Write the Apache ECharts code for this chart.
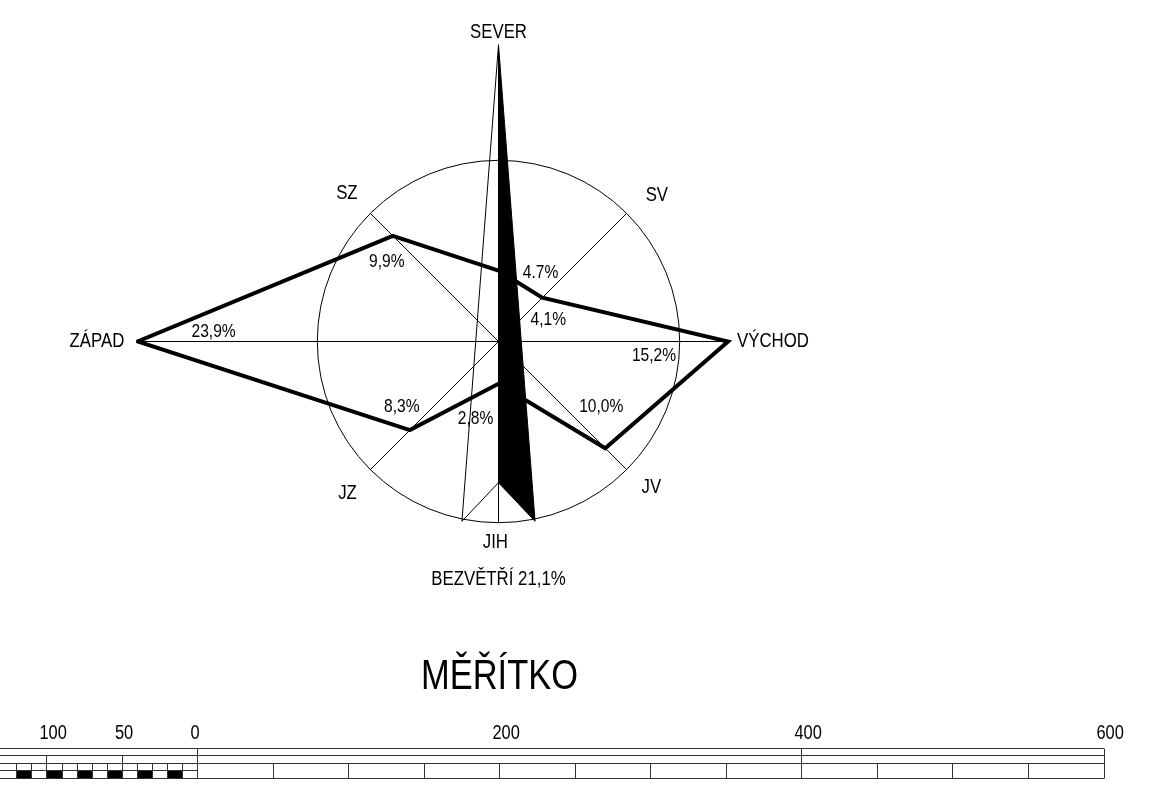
<!DOCTYPE html>
<html><head><meta charset="utf-8">
<script src="https://cdn.jsdelivr.net/npm/echarts@6/dist/echarts.min.js"></script>
<style>html,body{margin:0;padding:0;background:#fff}#c{width:1169px;height:793px}</style>
</head><body><div id="c"></div>
<script>
// ---------- data ----------
const directions = ['SEVER', 'SV', 'VÝCHOD', 'JV', 'JIH', 'JZ', 'ZÁPAD', 'SZ'];
const directionAngles = [0, 45, 90, 135, 180, 225, 270, 315];
const frequencies = [4.7, 4.1, 15.2, 10.0, 2.8, 8.3, 23.9, 9.9];
const decimalMarks = ['.', ',', ',', ',', ',', ',', ',', ','];
const calmName = 'BEZVĚTŘÍ';
const calmFrequency = 21.1;
const referenceRing = 12;
const scaleTitle = 'MĚŘÍTKO';
const scaleLabelValues = [-100, -50, 0, 200, 400, 600];
const scaleFullDividers = [0, 400, 600];
const scaleMidDividers = [-100, -50];
const scaleFineDividers = [-120, -110, -100, -90, -80, -70, -60, -50, -40, -30, -20, -10];
const scaleCoarseDividers = [50, 100, 150, 200, 250, 300, 350, 400, 450, 500, 550];
const scaleBlackCells = [-120, -100, -80, -60, -40, -20];
const scaleEnd = 600;

// ---------- layout / style ----------
const FONT = '"Liberation Sans", Arial, sans-serif';
const SX = 0.82;
const CENTER = [498.5, 341.5];
const PX_PER_PCT = 15.1;
const R_MAX = 24;
const dirLabelPolar = [[20.5, 0], [14.27, 47.3], [18.18, 90], [13.98, 133.6], [13.28, 180.9], [14.19, 224.8], [26.59, 270], [14.03, 314.3]];
const calmLabelPolar = [15.76, 180];
const valueLabelOffset = [[42, 2], [6, 22], [-74, 14], [-4, -42], [-23, 35], [-8, -23], [76, -10], [-6, 26]];
const arrow = { tip: 19.65, base: 12.15, half: 11.5, notch: 9.35 };
const SCALE_MIN = -131.1;

function txt(x, y, s, size, align) {
  return {
    type: 'text', x: x, y: y, scaleX: SX, scaleY: 1,
    style: { text: s, fill: '#000', font: size + 'px ' + FONT,
      align: align || 'center', textAlign: align || 'center',
      verticalAlign: 'middle', textVerticalAlign: 'middle' }
  };
}
function fmt(v, mark) { return v.toFixed(1).replace('.', mark) + '%'; }

const chart = echarts.init(document.getElementById('c'), null, { renderer: 'canvas' });

const option = {
  animation: false,
  backgroundColor: '#fff',
  polar: { center: CENTER, radius: R_MAX * PX_PER_PCT },
  angleAxis: { type: 'value', min: 0, max: 360, startAngle: 90, clockwise: true,
    axisLine: { show: false }, axisTick: { show: false }, axisLabel: { show: false }, splitLine: { show: false } },
  radiusAxis: { type: 'value', min: 0, max: R_MAX,
    axisLine: { show: false }, axisTick: { show: false }, axisLabel: { show: false }, splitLine: { show: false } },
  grid: { left: 0, right: 65, top: 748, height: 30 },
  xAxis: { type: 'value', min: SCALE_MIN, max: scaleEnd, show: false },
  yAxis: { type: 'value', min: 0, max: 4, show: false },
  graphic: [{
    type: 'text', x: 499.5, y: 677, scaleX: SX, scaleY: 1,
    style: { text: scaleTitle, fill: '#000', font: '42px ' + FONT, align: 'center', textAlign: 'center', verticalAlign: 'middle', textVerticalAlign: 'middle' }
  }],
  series: [
    { // ring and spokes
      type: 'custom', coordinateSystem: 'polar', z: 1, silent: true, clip: false,
      data: [[0, 0]],
      renderItem: function (params, api) {
        const c = api.coord([0, 0]);
        const e = api.coord([referenceRing, 90]);
        const ringR = Math.hypot(e[0] - c[0], e[1] - c[1]);
        const children = [{ type: 'circle', shape: { cx: c[0], cy: c[1], r: ringR }, style: { fill: 'none', stroke: '#000', lineWidth: 1 } }];
        frequencies.forEach(function (v, i) {
          const p = api.coord([Math.max(v, referenceRing), directionAngles[i]]);
          children.push({ type: 'line', shape: { x1: c[0], y1: c[1], x2: p[0], y2: p[1] }, style: { stroke: '#000', lineWidth: 1 } });
        });
        return { type: 'group', children: children };
      }
    },
    { // frequency polygon
      type: 'line', coordinateSystem: 'polar', z: 2, silent: true, clip: false,
      symbol: 'none',
      data: frequencies.map(function (v, i) { return [v, directionAngles[i]]; }).concat([[frequencies[0], directionAngles[0]]]),
      lineStyle: { color: '#000', width: 4, join: 'miter', miterLimit: 20 }
    },
    { // north arrow and labels
      type: 'custom', coordinateSystem: 'polar', z: 3, silent: true, clip: false,
      data: [[0, 0]],
      renderItem: function (params, api) {
        const tip = api.coord([arrow.tip, 0]);
        const right = api.coord([arrow.base, 180 - arrow.half]);
        const left = api.coord([arrow.base, 180 + arrow.half]);
        const notch = api.coord([arrow.notch, 180]);
        const children = [
          { type: 'polygon', shape: { points: [[tip[0], tip[1]], [right[0], right[1]], [notch[0], notch[1]]] }, style: { fill: '#000', stroke: '#000', lineWidth: 1 } },
          { type: 'polyline', shape: { points: [[tip[0], tip[1]], [left[0], left[1]], [notch[0], notch[1]]] }, style: { fill: 'none', stroke: '#000', lineWidth: 1 } }
        ];
        directions.forEach(function (d, i) {
          const p = api.coord(dirLabelPolar[i]);
          children.push(txt(p[0], p[1], d, 20.5));
        });
        frequencies.forEach(function (v, i) {
          const p = api.coord([v, directionAngles[i]]);
          children.push(txt(p[0] + valueLabelOffset[i][0], p[1] + valueLabelOffset[i][1], fmt(v, decimalMarks[i]), 19));
        });
        const cp = api.coord(calmLabelPolar);
        children.push(txt(cp[0], cp[1], calmName + ' ' + fmt(calmFrequency, ','), 20.5));
        return { type: 'group', children: children };
      }
    },
    { // scale bar
      type: 'custom', coordinateSystem: 'cartesian2d', z: 1, silent: true, clip: false,
      data: [[0, 0]],
      renderItem: function (params, api) {
        const cr = function (v) { return Math.floor(v) + 0.5; };
        const P = function (x, y) { return api.coord([x, y]); };
        const children = [];
        const hline = function (x1, x2, y) {
          const a = P(x1, y), b = P(x2, y);
          children.push({ type: 'line', shape: { x1: a[0], y1: cr(a[1]), x2: b[0], y2: cr(b[1]) }, style: { stroke: '#333', lineWidth: 1 } });
        };
        const vline = function (x, y1, y2) {
          const a = P(x, y1), b = P(x, y2);
          children.push({ type: 'line', shape: { x1: cr(a[0]), y1: cr(a[1]), x2: cr(b[0]), y2: cr(b[1]) }, style: { stroke: '#333', lineWidth: 1 } });
        };
        scaleBlackCells.forEach(function (x) {
          const a = P(x, 1), b = P(x + 10, 0);
          children.push({ type: 'rect', shape: { x: cr(a[0]), y: cr(a[1]), width: cr(b[0]) - cr(a[0]), height: cr(b[1]) - cr(a[1]) }, style: { fill: '#000' } });
        });
        [4, 3, 2, 0].forEach(function (y) { hline(SCALE_MIN, scaleEnd, y); });
        hline(SCALE_MIN, 0, 1);
        scaleFullDividers.forEach(function (x) { vline(x, 0, 4); });
        scaleMidDividers.forEach(function (x) { vline(x, 2, 3); });
        scaleFineDividers.forEach(function (x) { vline(x, 0, 2); });
        scaleCoarseDividers.forEach(function (x) { vline(x, 0, 2); });
        scaleLabelValues.forEach(function (v) {
          const p = P(v, 4);
          children.push(txt(p[0] - 7.5, p[1] - 14.5, String(Math.abs(v)), 20, 'left'));
        });
        return { type: 'group', children: children };
      }
    }
  ]
};
chart.setOption(option);
</script>
</body></html>
